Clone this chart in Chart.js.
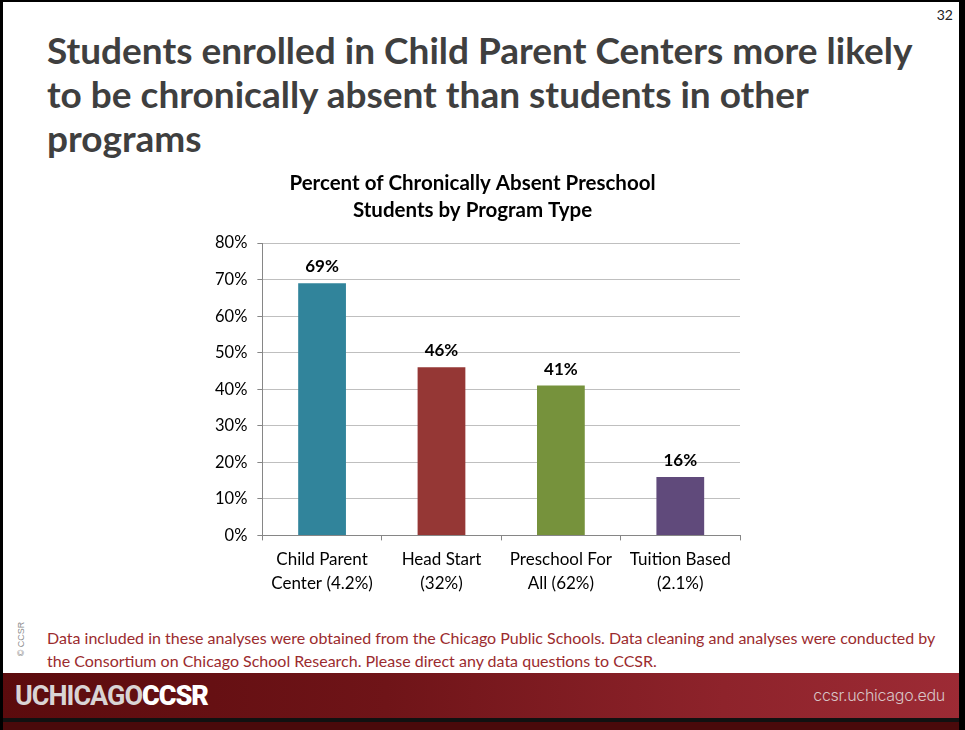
<!DOCTYPE html>
<html>
<head>
<meta charset="utf-8">
<script src="https://cdn.jsdelivr.net/npm/chart.js@4/dist/chart.umd.min.js"></script>
<style>
  html, body { margin: 0; padding: 0; }
  body { width: 965px; height: 730px; overflow: hidden; background: #fff; font-family: Lato, "Open Sans", sans-serif; }
  .slide { position: absolute; left: 0; top: 0; width: 965px; height: 730px; background: #fff; }
  .frame { position: absolute; left: 0; top: 0; width: 965px; height: 730px; box-sizing: border-box;
           border-left: 3px solid #000; border-top: 2px solid #000; border-right: 6px solid #000; pointer-events: none; }
  .slide-num { position: absolute; right: 12px; top: 6px; font-size: 14px; color: #222; }
  .headline { position: absolute; left: 47px; top: 28px; width: 910px; margin: 0;
              font-size: 37px; line-height: 44px; font-weight: 700; color: #3f3f3f; letter-spacing: 0; }
  .chart-box { position: absolute; left: 205px; top: 160px; width: 555px; height: 452px; }
  .note { position: absolute; left: 47px; top: 626px; width: 910px; font-size: 16px; line-height: 23px; color: #9b2b2e; }
  .copy { position: absolute; left: 1px; top: 634px; transform: rotate(-90deg); transform-origin: center;
          font-family: "Liberation Sans", sans-serif; font-size: 9px; color: #8c8c8c; width: 40px; text-align: center; }
  .band { position: absolute; left: 0; top: 673px; width: 965px; height: 45px;
          background: linear-gradient(to right, #5b0b0d 0%, #6f1418 40%, #8e232b 75%, #9d2b35 100%); }
  .band-base { position: absolute; left: 0; top: 718px; width: 965px; height: 4px; background: #111; }
  .band-low { position: absolute; left: 0; top: 722px; width: 965px; height: 8px; background: #4a0a0b; }
  .brand { position: absolute; left: 15px; top: 680px; font-family: Roboto, "Liberation Sans", sans-serif;
           font-size: 27px; font-weight: 700; letter-spacing: -1px; color: #d9d4d4; }
  .brand b { color: #ffffff; }
  .url { position: absolute; right: 20px; top: 685px; font-family: Inter, "Open Sans", sans-serif;
         font-size: 16px; font-weight: 300; color: #d8c4c6; letter-spacing: -0.3px; }
</style>
</head>
<body>
<div class="slide">
  <div class="slide-num">32</div>
  <h1 class="headline">Students enrolled in Child Parent Centers more likely<br>to be chronically absent than students in other<br>programs</h1>
  <div class="chart-box"><canvas id="absentChart"></canvas></div>
  <div class="copy">© CCSR</div>
  <div class="note">Data included in these analyses were obtained from the Chicago Public Schools. Data cleaning and analyses were conducted by<br>the Consortium on Chicago School Research. Please direct any data questions to CCSR.</div>
  <div class="band"></div>
  <div class="band-base"></div>
  <div class="band-low"></div>
  <div class="brand">UCHICAGO<b>CCSR</b></div>
  <div class="url">ccsr.uchicago.edu</div>
  <div class="frame"></div>
</div>

<script>
// Program types (with share of enrollment) and percent chronically absent
const programs = [
    ['Child Parent', 'Center (4.2%)'],
    ['Head Start', '(32%)'],
    ['Preschool For', 'All (62%)'],
    ['Tuition Based', '(2.1%)']
];
const absentPct = [69, 46, 41, 16];
const barColors = ['#31849b', '#953735', '#76923c', '#604a7b'];
const yTicks = [0, 10, 20, 30, 40, 50, 60, 70, 80];

const FONT = 'Lato, "Open Sans", sans-serif';

// writes the value above each bar
const valueLabels = {
    id: 'valueLabels',
    afterDatasetsDraw(chart) {
        const ctx = chart.ctx;
        const meta = chart.getDatasetMeta(0);
        ctx.save();
        ctx.font = 'bold 17px ' + FONT;
        ctx.fillStyle = '#000';
        ctx.textAlign = 'center';
        ctx.textBaseline = 'bottom';
        meta.data.forEach((bar, i) => {
            ctx.fillText(absentPct[i] + '%', bar.x, bar.y - 8);
        });
        ctx.restore();
    }
};

const ctx = document.getElementById('absentChart').getContext('2d');
const absentChart = new Chart(ctx, {
    type: 'bar',
    data: {
        labels: programs,
        datasets: [{
            data: absentPct,
            backgroundColor: barColors,
            borderWidth: 0,
            categoryPercentage: 1,
            barPercentage: 0.4
        }]
    },
    options: {
        responsive: true,
        maintainAspectRatio: false,
        animation: false,
        layout: { padding: { left: 0, right: 20, top: 0, bottom: 10 } },
        plugins: {
            legend: { display: false },
            tooltip: { enabled: false },
            title: {
                display: true,
                text: ['Percent of Chronically Absent Preschool', 'Students by Program Type'],
                color: '#000',
                font: { family: FONT, size: 20.5, weight: 'bold', lineHeight: 1.32 },
                padding: { top: 10, bottom: 19 }
            }
        },
        scales: {
            x: {
                grid: { display: true, drawOnChartArea: false, drawTicks: true, tickLength: 5, offset: true, color: '#868686' },
                border: { color: '#868686' },
                ticks: { color: '#000', font: { family: FONT, size: 17, lineHeight: 1.4 }, padding: 7, maxRotation: 0 }
            },
            y: {
                min: 0,
                max: 80,
                afterBuildTicks: axis => { axis.ticks = yTicks.map(v => ({ value: v })); },
                grid: { color: '#bfbfbf', tickLength: 5, tickColor: '#868686' },
                border: { color: '#868686' },
                ticks: { color: '#000', font: { family: FONT, size: 16.5 }, padding: 10, callback: v => v + '%' }
            }
        }
    },
    plugins: [valueLabels]
});
</script>
</body>
</html>
